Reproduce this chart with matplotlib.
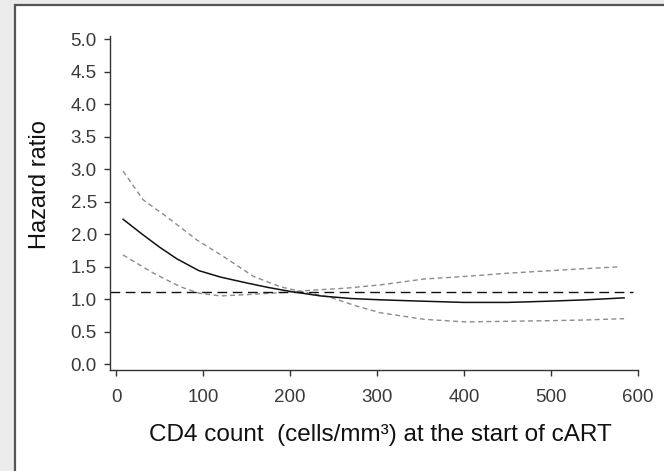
import matplotlib
matplotlib.use("Agg")
import matplotlib.pyplot as plt
from matplotlib.patches import Rectangle

# ---- data ----
hr_x = [8, 30, 50, 70, 95, 120, 150, 175, 200, 235, 270, 304, 350, 400, 450, 500, 540, 584]
hr_y = [2.23, 2.00, 1.80, 1.62, 1.44, 1.34, 1.25, 1.18, 1.12, 1.05, 1.01, 0.99, 0.97, 0.95, 0.95, 0.97, 0.99, 1.02]

ci_a_x = [8, 31, 58, 93, 123, 158, 189, 212, 246, 275, 304, 354, 401, 451, 501, 540, 584]
ci_a_y = [2.97, 2.53, 2.27, 1.91, 1.66, 1.35, 1.19, 1.12, 1.03, 0.90, 0.79, 0.69, 0.65, 0.66, 0.67, 0.68, 0.70]

ci_b_x = [8, 43, 74, 96, 120, 150, 189, 227, 265, 304, 354, 401, 451, 501, 580]
ci_b_y = [1.68, 1.40, 1.19, 1.09, 1.05, 1.07, 1.10, 1.14, 1.17, 1.22, 1.31, 1.35, 1.40, 1.44, 1.50]

ref_level = 1.11

x_ticks = [0, 100, 200, 300, 400, 500, 600]
y_ticks = [0.0, 0.5, 1.0, 1.5, 2.0, 2.5, 3.0, 3.5, 4.0, 4.5, 5.0]
x_label = "CD4 count  (cells/mm\u00b3) at the start of cART"
y_label = "Hazard ratio"

plt.rcParams['font.family'] = ['Liberation Sans', 'DejaVu Sans']

W, H = 664, 471
fig = plt.figure(figsize=(W / 100, H / 100), dpi=100, facecolor='#ebebeb')

# white panel with dark border
fig.patches.append(Rectangle((15 / W, -0.05), 1.0, 1 - 5 / H + 0.05,
                             transform=fig.transFigure, facecolor='white',
                             edgecolor='#555555', linewidth=1.6, zorder=-10))

ax = fig.add_axes([110 / W, 1 - 370 / H, 528 / W, 334 / H])
ax.set_zorder(5)
ax.set_facecolor('none')

ax.plot(ci_a_x, ci_a_y, color='#8c8c8c', lw=1.0, dashes=(3.5, 2.5))
ax.plot(ci_b_x, ci_b_y, color='#8c8c8c', lw=1.0, dashes=(3.5, 2.5))
ax.plot(hr_x, hr_y, color='#111111', lw=1.1)
ax.axhline(ref_level, xmin=0, xmax=0.99, color='#111111', lw=1.0, dashes=(7, 4))

ax.set_xlim(-7, 600)
ax.set_ylim(-0.09, 5.05)
ax.set_xticks(x_ticks)
ax.set_xticklabels([str(v) for v in x_ticks])
ax.set_yticks(y_ticks)
ax.set_yticklabels([f"{v:.1f}" for v in y_ticks])

for s in ['top', 'right']:
    ax.spines[s].set_visible(False)
for s in ['left', 'bottom']:
    ax.spines[s].set_color('#333333')
    ax.spines[s].set_linewidth(1.0)

ax.tick_params(axis='both', direction='out', length=4.5, width=1.0,
               color='#333333', labelcolor='#3a3a3a', labelsize=13.5)
ax.tick_params(axis='y', pad=5)
ax.tick_params(axis='x', pad=9)

ax.set_xlabel(x_label, fontsize=17.5, color='#111111')
ax.set_ylabel(y_label, fontsize=17, color='#111111')
ax.xaxis.set_label_coords((380 - 110) / 528, (370 - 424) / 334)
ax.yaxis.set_label_coords((51 - 110) / 528, (370 - 185) / 334)

fig.savefig('out.png', dpi=100, facecolor=fig.get_facecolor())
